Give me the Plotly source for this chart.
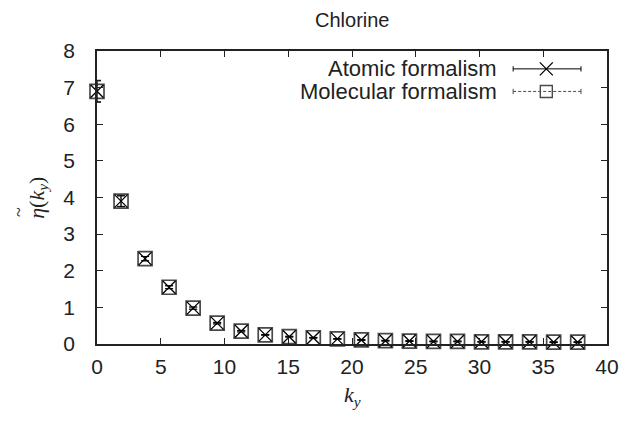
import plotly.graph_objects as go

# data
k_y = [0.0, 1.885, 3.770, 5.655, 7.540, 9.425, 11.310, 13.195, 15.080, 16.965,
       18.850, 20.735, 22.620, 24.505, 26.390, 28.275, 30.160, 32.045, 33.930,
       35.815, 37.700]
eta_atomic = [6.90, 3.90, 2.33, 1.55, 0.98, 0.57, 0.35, 0.25, 0.20, 0.17,
              0.14, 0.11, 0.09, 0.08, 0.07, 0.07, 0.06, 0.06, 0.06, 0.05, 0.05]
err_atomic = [0.30, 0.15, 0.06, 0.04, 0.03, 0.02, 0.02, 0.01, 0.01, 0.01,
              0.01, 0.01, 0.01, 0.01, 0.01, 0.01, 0.01, 0.01, 0.01, 0.01, 0.01]
eta_molecular = [6.90, 3.90, 2.33, 1.55, 0.98, 0.57, 0.35, 0.25, 0.20, 0.17,
                 0.14, 0.11, 0.09, 0.08, 0.07, 0.07, 0.06, 0.06, 0.06, 0.05, 0.05]
err_molecular = [0.28, 0.14, 0.06, 0.04, 0.03, 0.02, 0.02, 0.01, 0.01, 0.01,
                 0.01, 0.01, 0.01, 0.01, 0.01, 0.01, 0.01, 0.01, 0.01, 0.01, 0.01]
series_names = ["Atomic formalism", "Molecular formalism"]
x_ticks = [0, 5, 10, 15, 20, 25, 30, 35, 40]
y_ticks = [0, 1, 2, 3, 4, 5, 6, 7, 8]

SANS = "Liberation Sans, Arial, Helvetica"
SERIF = "Liberation Serif, Times New Roman, serif"

fig = go.Figure()
fig.add_trace(go.Scatter(
    x=k_y, y=eta_molecular, mode="markers", name=series_names[1], cliponaxis=False,
    marker=dict(symbol="square-open", size=14, color="#4a4a4a", line=dict(width=1.7)),
    error_y=dict(type="data", array=err_molecular, color="#4a4a4a", thickness=1, width=4),
    showlegend=False))
fig.add_trace(go.Scatter(
    x=k_y, y=eta_atomic, mode="markers", name=series_names[0], cliponaxis=False,
    marker=dict(symbol="x-thin-open", size=13, color="black", line=dict(width=1.3, color="black")),
    error_y=dict(type="data", array=err_atomic, color="black", thickness=1, width=4),
    showlegend=False))

# custom gnuplot-style legend (samples on the right of the text)
leg_y = [0.939, 0.862]
x0, x1, xm = 0.816, 0.949, 0.881
fig.add_trace(go.Scatter(x=[xm], y=[leg_y[0]], xaxis="x2", yaxis="y2", mode="markers",
                         marker=dict(symbol="x-thin-open", size=13, color="black",
                                     line=dict(width=1.3, color="black")),
                         showlegend=False, hoverinfo="skip"))
fig.add_trace(go.Scatter(x=[xm], y=[leg_y[1]], xaxis="x2", yaxis="y2", mode="markers",
                         marker=dict(symbol="square-open", size=12, color="#4a4a4a", line=dict(width=1.4)),
                         showlegend=False, hoverinfo="skip"))
shapes = []
for yy, dash, col in [(leg_y[0], "solid", "black"), (leg_y[1], "3px,2px", "#4a4a4a")]:
    shapes.append(dict(type="line", xref="paper", yref="paper", x0=x0, x1=x1, y0=yy, y1=yy,
                       line=dict(color=col, width=1, dash=dash)))
    for xx in (x0, x1):
        shapes.append(dict(type="line", xref="paper", yref="paper", x0=xx, x1=xx,
                           y0=yy - 0.009, y1=yy + 0.009, line=dict(color=col, width=1)))
annotations = []
for yy, name in zip(leg_y, series_names):
    annotations.append(dict(x=0.789, y=yy, xref="paper", yref="paper", text=name,
                            showarrow=False, xanchor="right", yanchor="middle",
                            font=dict(family=SANS, size=22, color="#222222")))
# y-axis label
annotations.append(dict(x=-0.117, y=0.50, xref="paper", yref="paper",
                        text="<i>η</i>(<i>k</i><sub><i>y</i></sub>)", textangle=-90,
                        showarrow=False, xanchor="center", yanchor="middle",
                        font=dict(family=SERIF, size=22, color="#222222")))
annotations.append(dict(x=-0.153, y=0.45, xref="paper", yref="paper",
                        text="~", textangle=-90,
                        showarrow=False, xanchor="center", yanchor="middle",
                        font=dict(family=SERIF, size=18, color="#222222")))
# x-axis label
annotations.append(dict(x=0.5, y=-0.178, xref="paper", yref="paper",
                        text="<i>k</i><sub><i>y</i></sub>",
                        showarrow=False, xanchor="center", yanchor="middle",
                        font=dict(family=SERIF, size=22, color="#222222")))
# title
annotations.append(dict(x=0.5, y=1.105, xref="paper", yref="paper",
                        text="Chlorine", showarrow=False, xanchor="center", yanchor="middle",
                        font=dict(family=SANS, size=20, color="#222222")))

axis_common = dict(showline=True, linecolor="#222222", linewidth=1.5, mirror="allticks",
                   ticks="inside", ticklen=6, tickwidth=1, tickcolor="#222222",
                   showgrid=False, zeroline=False,
                   tickfont=dict(family=SANS, size=21, color="#222222"))

# page has 8px body margin: figure sized so the plot lands where the reference has it
fig.update_layout(
    width=623, height=405,
    margin=dict(l=89, r=22, t=43, b=69),
    paper_bgcolor="white", plot_bgcolor="white",
    xaxis=dict(range=[0, 40], tickvals=x_ticks, ticklabelstandoff=3, **axis_common),
    yaxis=dict(range=[0, 8], tickvals=y_ticks, ticklabelstandoff=16, **axis_common),
    xaxis2=dict(range=[0, 1], overlaying="x", visible=False, anchor="y2"),
    yaxis2=dict(range=[0, 1], overlaying="y", visible=False, anchor="x2"),
    shapes=shapes, annotations=annotations,
)
fig.write_html("out.html")
